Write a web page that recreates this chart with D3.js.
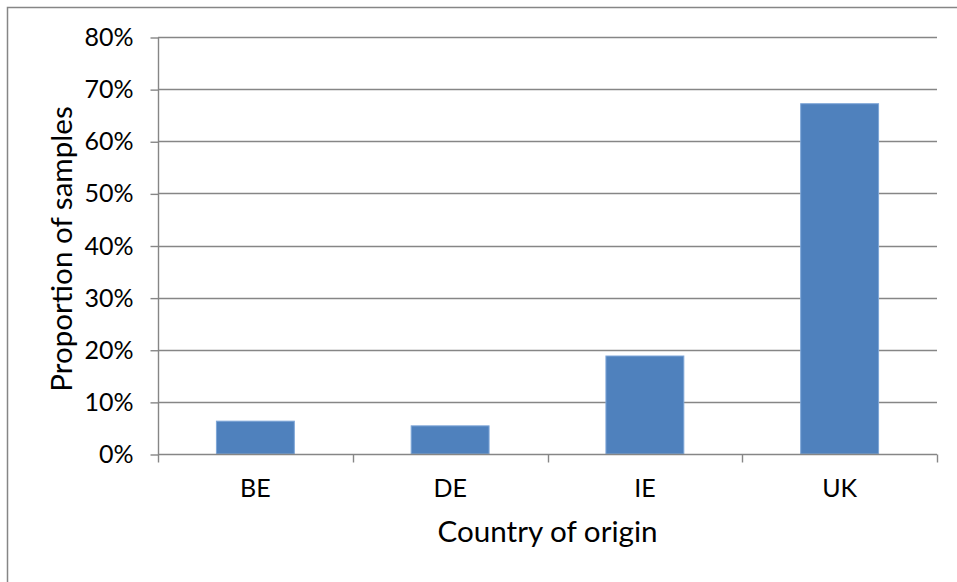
<!DOCTYPE html>
<html>
<head>
<meta charset="utf-8">
<script src="https://cdn.jsdelivr.net/npm/d3@7"></script>
<style>
  html, body { margin: 0; padding: 0; background: #fff; }
  svg { display: block; }
  text { font-family: Lato, "Open Sans", sans-serif; fill: #000; }
</style>
</head>
<body>
<svg id="chart" width="957" height="582"></svg>
<script>
const categories = ["BE", "DE", "IE", "UK"];
const values = [0.063, 0.054, 0.188, 0.672];
const yTicks = [0, 0.1, 0.2, 0.3, 0.4, 0.5, 0.6, 0.7, 0.8];
const xTitle = "Country of origin";
const yTitle = "Proportion of samples";

const W = 957, H = 582;
const plot = { left: 158, right: 937, top: 37, bottom: 454 };
const svg = d3.select("#chart");

// outer frame (extends past the picture on the right and bottom)
svg.append("rect")
  .attr("x", 7.5).attr("y", 7.5)
  .attr("width", W + 10).attr("height", H + 10)
  .attr("fill", "#fff").attr("stroke", "#868686").attr("stroke-width", 1.5);

const x = d3.scaleBand().domain(categories)
  .range([plot.left, plot.right]).paddingInner(0.6).paddingOuter(0.3);
const y = d3.scaleLinear().domain([0, 0.8]).range([plot.bottom, plot.top]);

const gridColor = "#868686";

// gridlines
svg.append("g").selectAll("line").data(yTicks.filter(d => d > 0)).join("line")
  .attr("x1", plot.left).attr("x2", plot.right)
  .attr("y1", d => Math.round(y(d)) + 0.5).attr("y2", d => Math.round(y(d)) + 0.5)
  .attr("stroke", gridColor).attr("stroke-width", 1.4);

// bars
svg.append("g").selectAll("rect").data(categories).join("rect")
  .attr("x", d => x(d))
  .attr("y", (d, i) => y(values[i]))
  .attr("width", x.bandwidth())
  .attr("height", (d, i) => y(0) - y(values[i]))
  .attr("fill", "#4F81BD")
  .attr("stroke", "#7EA6D8").attr("stroke-width", 1);

// y axis
const yAxis = d3.axisLeft(y).tickValues(yTicks).tickFormat(d3.format(".0%"))
  .tickSize(8).tickPadding(17);
const gy = svg.append("g").attr("transform", `translate(${plot.left + 0.5},0.5)`).call(yAxis);
gy.select(".domain").attr("stroke", gridColor).attr("stroke-width", 1.4).attr("d", `M0,${plot.top}V${plot.bottom}`);
gy.selectAll(".tick line").attr("stroke", gridColor).attr("stroke-width", 1.4);
gy.selectAll(".tick text").attr("font-size", 25).attr("font-family", "Lato").attr("fill", "#000");

// x axis
const gx = svg.append("g").attr("transform", `translate(0,${plot.bottom + 0.5})`)
  .call(d3.axisBottom(x).tickSize(0).tickPadding(25));
gx.select(".domain").remove();
gx.selectAll(".tick text").attr("font-size", 25).attr("font-family", "Lato").attr("fill", "#000");
// category boundary ticks
const bounds = categories.map((c, i) => plot.left + i * (plot.right - plot.left) / categories.length);
bounds.push(plot.right);
gx.append("line").attr("x1", plot.left).attr("x2", plot.right).attr("y1", 0).attr("y2", 0)
  .attr("stroke", gridColor).attr("stroke-width", 1.4);
gx.selectAll(".bnd").data(bounds).join("line").attr("class", "bnd")
  .attr("x1", d => Math.round(d) + 0.5).attr("x2", d => Math.round(d) + 0.5)
  .attr("y1", 0).attr("y2", 8)
  .attr("stroke", gridColor).attr("stroke-width", 1.4);

// titles
svg.append("text").attr("x", (plot.left + plot.right) / 2).attr("y", 542)
  .attr("text-anchor", "middle").attr("font-size", 29.6).text(xTitle);
svg.append("text")
  .attr("transform", `translate(72,249) rotate(-90)`)
  .attr("text-anchor", "middle").attr("font-size", 29.6).text(yTitle);
</script>
</body>
</html>
